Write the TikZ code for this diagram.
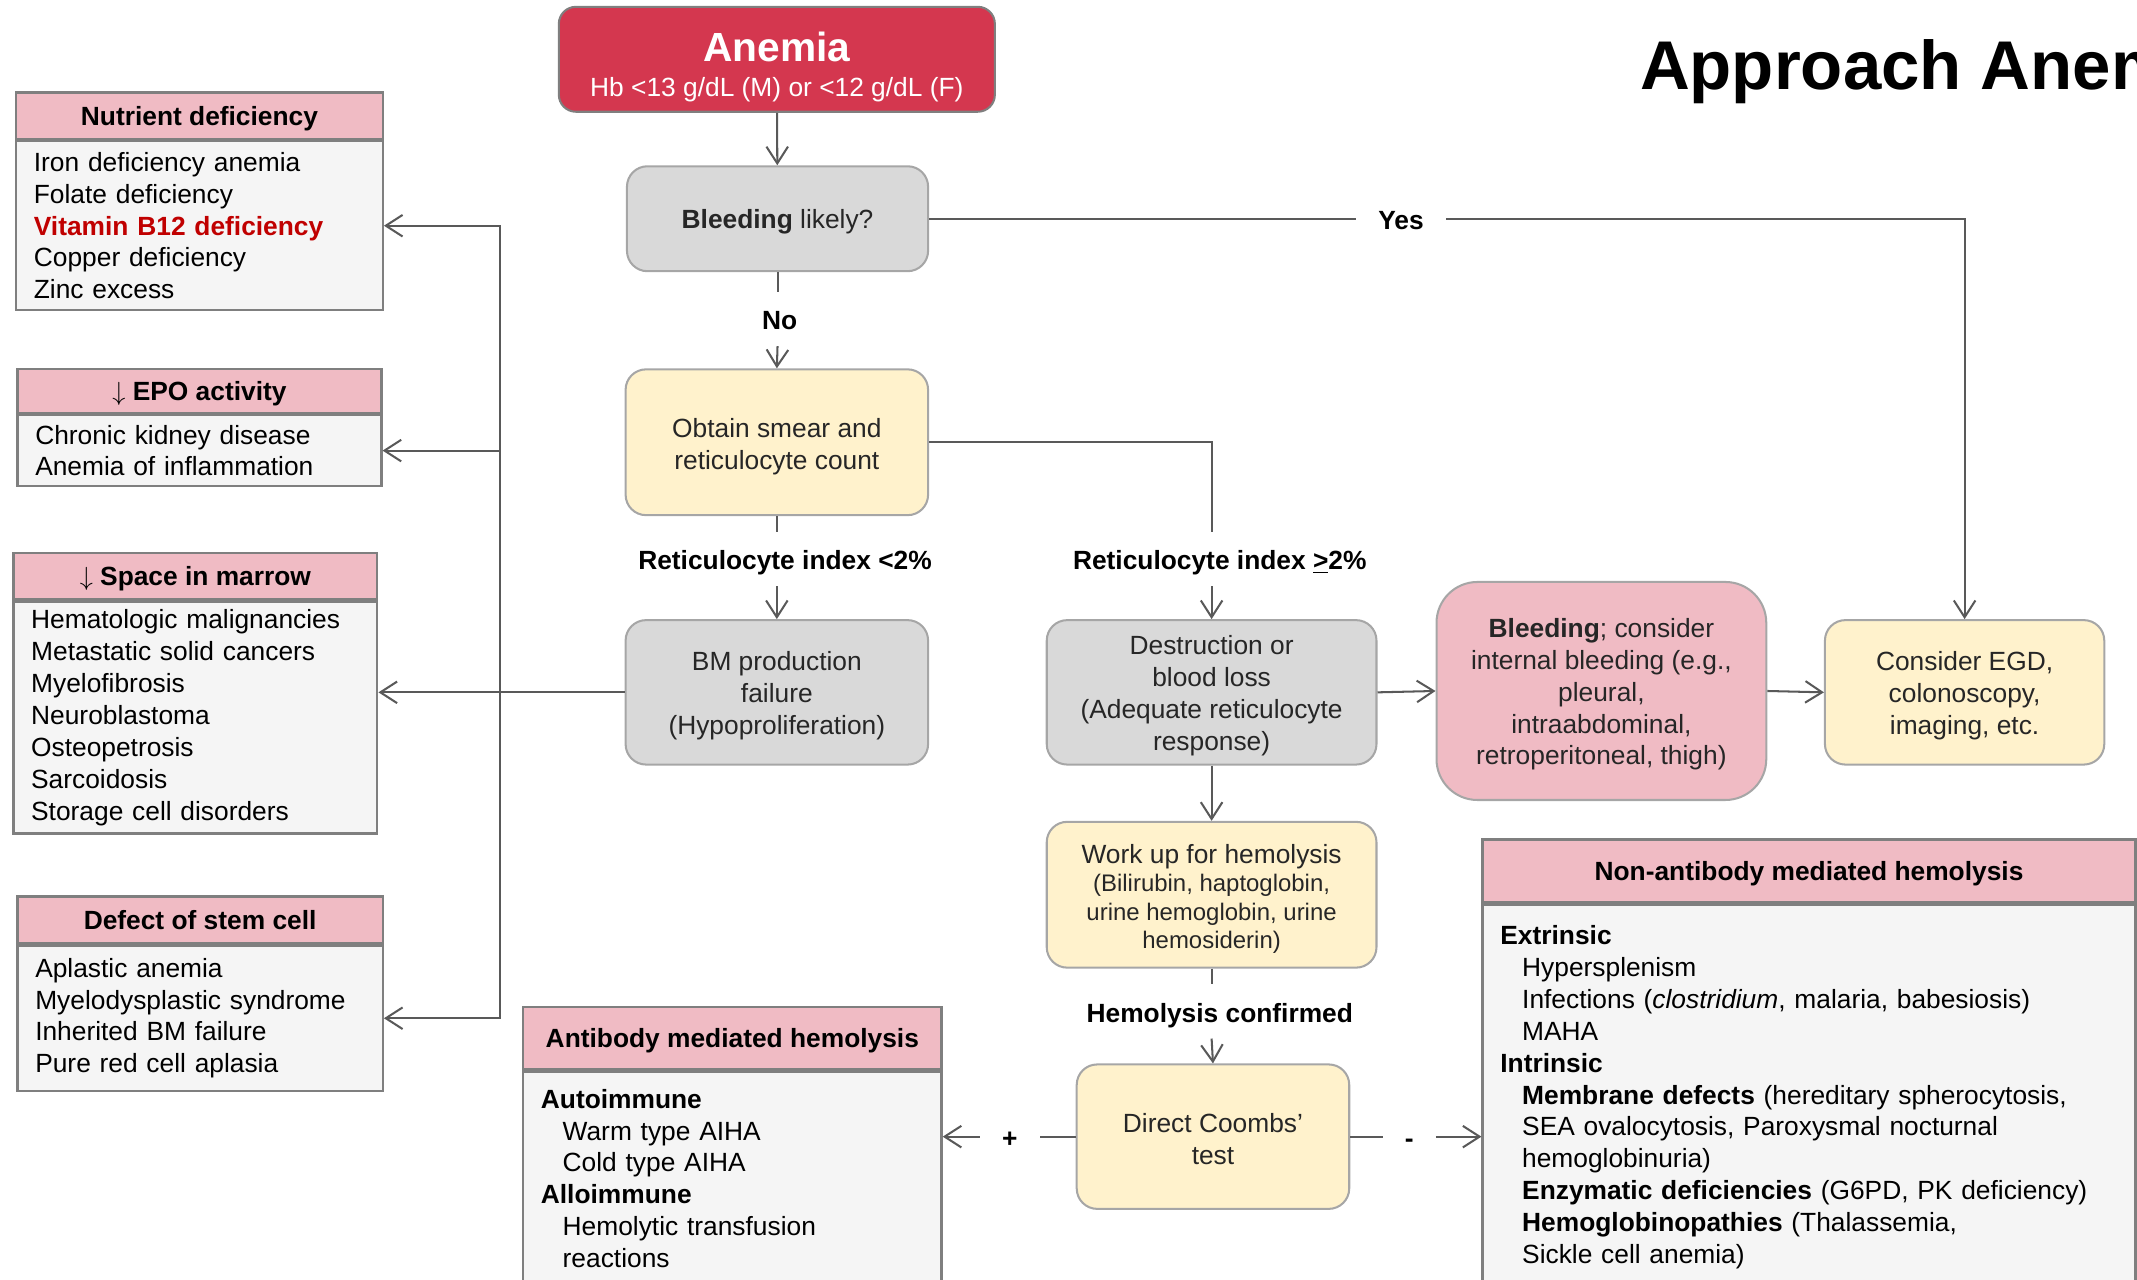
\documentclass[tikz,border=0pt]{standalone}
\usepackage{fontspec}
\setmainfont{Liberation Sans}
\usetikzlibrary{positioning,arrows.meta}

\definecolor{anemiared}{HTML}{D4374F}
\definecolor{boxgray}{HTML}{D9D9D9}
\definecolor{boxyellow}{HTML}{FFF2CC}
\definecolor{boxpink}{HTML}{F0BBC4}
\definecolor{listfill}{HTML}{F5F5F5}
\definecolor{edgegray}{HTML}{A6A6A6}
\definecolor{framegray}{HTML}{7F7F7F}
\definecolor{linegray}{HTML}{595959}
\definecolor{textdark}{HTML}{262626}
\definecolor{darkred}{HTML}{C00000}

% 首行撑高, 文字略下移
\newcommand{\lift}[1][10.8pt]{\rule{0pt}{#1}}

\tikzset{
    barb/.tip={Straight Barb[length=7pt,width=9pt]},
    flowbox/.style={
        rectangle,
        rounded corners=0.3cm,
        draw=edgegray, % 浅灰边框
        line width=0.85pt,
        align=center,
        text=textdark,
        inner sep=2pt,
        font=\fontsize{11}{13.3}\selectfont
    },
    graybox/.style={flowbox, fill=boxgray},
    yellowbox/.style={flowbox, fill=boxyellow},
    pinkbox/.style={flowbox, fill=boxpink, rounded corners=0.6cm},
    headbox/.style={
        rectangle,
        draw=framegray,
        fill=boxpink, % 标题栏粉色
        line width=1pt,
        inner sep=0pt,
        text height=9pt,
        text depth=1.2pt,
        font=\fontsize{11}{13.3}\selectfont\bfseries
    },
    listbox/.style={
        rectangle,
        draw=framegray,
        fill=listfill,
        line width=1pt,
        align=left,
        inner xsep=0.26cm,
        inner ysep=0pt,
        font=\fontsize{11}{13.3}\selectfont
    },
    steplabel/.style={
        font=\fontsize{11}{13.3}\selectfont\bfseries,
        inner xsep=0.32cm,
        inner ysep=0.2cm,
        text height=10pt,
        text depth=1pt
    },
    conn/.style={draw=linegray, line width=0.85pt},
    arr/.style={conn, -barb}
}

\begin{document}
\begin{tikzpicture}[x=0.02cm, y=-0.02cm]
    \useasboundingbox (0,0) rectangle (1568,939);
    \clip (0,0) rectangle (1568,939);

    \node[anchor=base west, inner sep=0pt, font=\fontsize{28.8}{34}\selectfont\bfseries] (title) at (1203,66) {Approach Anemia};

    % 主流程
    \node[flowbox, fill=anemiared, draw=framegray, text=white, rounded corners=0.25cm,
          minimum width=6.4cm, minimum height=1.54cm, font=\fontsize{11}{14.8}\selectfont] (anemia) at (570,43.5)
        {{\lift[18.7pt]\fontsize{17}{20}\selectfont\bfseries Anemia}\\Hb <13 g/dL (M) or <12 g/dL (F)};
    \node[graybox, minimum width=4.42cm, minimum height=1.54cm] (bleed) at (570.5,160.5) {\lift\textbf{Bleeding} likely?};
    \node[yellowbox, minimum width=4.44cm, minimum height=2.14cm] (smear) at (570,324.5) {\lift[11.4pt]Obtain smear and\\reticulocyte count};
    \node[graybox, minimum width=4.44cm, minimum height=2.12cm] (bmfail) at (570,508) {\lift BM production\\failure\\(Hypoproliferation)};
    \node[graybox, minimum width=4.84cm, minimum height=2.12cm] (destr) at (889,508) {\lift Destruction or\\blood loss\\(Adequate reticulocyte\\response)};
    \node[pinkbox, minimum width=4.84cm, minimum height=3.2cm] (bleedint) at (1175,507)
        {\lift\textbf{Bleeding}; consider\\internal bleeding (e.g.,\\pleural,\\intraabdominal,\\retroperitoneal, thigh)};
    \node[yellowbox, minimum width=4.1cm, minimum height=2.12cm] (egd) at (1441.5,508) {\lift Consider EGD,\\colonoscopy,\\imaging, etc.};
    \node[yellowbox, minimum width=4.84cm, minimum height=2.14cm, font=\fontsize{10}{11.9}\selectfont] (workup) at (889,656.5)
        {{\lift[11.6pt]\fontsize{11}{13}\selectfont Work up for hemolysis}\\(Bilirubin, haptoglobin,\\urine hemoglobin, urine\\hemosiderin)};
    \node[yellowbox, minimum width=4.0cm, minimum height=2.12cm] (coombs) at (890,834) {\lift[10.2pt]Direct Coombs'\\test};

    % 分支标签
    \node[steplabel] (no) at (572,234) {No};
    \node[steplabel] (yes) at (1028,160.5) {Yes};
    \node[steplabel] (ri1) at (576,410) {Reticulocyte index <2\%};
    \node[steplabel] (ri2) at (895,410) {Reticulocyte index \underline{>}2\%};
    \node[steplabel] (hemo) at (895,742) {Hemolysis confirmed};
    \node[steplabel] (plus) at (741,834) {+};
    \node[steplabel] (minus) at (1034,834) {-};

    % 左侧分类框
    \node[headbox, anchor=north west, minimum width=5.38cm, minimum height=0.68cm] (nuth) at (11,67) {Nutrient deficiency};
    \node[listbox, below=0pt of nuth, text width=4.86cm, minimum height=2.48cm] (nutb)
        {Iron deficiency anemia\\Folate deficiency\\\textcolor{darkred}{\textbf{Vitamin B12 deficiency}}\\Copper deficiency\\Zinc excess};
    \node[headbox, anchor=north west, minimum width=5.34cm, minimum height=0.64cm] (epoh) at (12,270) {$\downarrow$ EPO activity};
    \node[listbox, below=0pt of epoh, text width=4.82cm, minimum height=1.04cm] (epob)
        {Chronic kidney disease\\Anemia of inflammation};
    \node[headbox, anchor=north west, minimum width=5.34cm, minimum height=0.68cm] (spaceh) at (9,405) {$\downarrow$ Space in marrow};
    \node[listbox, below=0pt of spaceh, text width=4.82cm, minimum height=3.4cm] (spaceb)
        {Hematologic malignancies\\Metastatic solid cancers\\Myelofibrosis\\Neuroblastoma\\Osteopetrosis\\Sarcoidosis\\Storage cell disorders};
    \node[headbox, anchor=north west, minimum width=5.36cm, minimum height=0.68cm] (defh) at (12,657) {Defect of stem cell};
    \node[listbox, below=0pt of defh, text width=4.84cm, minimum height=2.14cm] (defb)
        {Aplastic anemia\\Myelodysplastic syndrome\\Inherited BM failure\\Pure red cell aplasia};

    % 溶血分类
    \node[headbox, anchor=north west, minimum width=6.14cm, minimum height=0.92cm] (abh) at (383,738) {Antibody mediated hemolysis};
    \node[listbox, below=0pt of abh, text width=5.62cm, minimum height=3.12cm] (abb)
        {\textbf{Autoimmune}\\\hspace*{0.32cm}Warm type AIHA\\\hspace*{0.32cm}Cold type AIHA\\\textbf{Alloimmune}\\
         \hspace*{0.32cm}Hemolytic transfusion\\\hspace*{0.32cm}reactions};
    \node[headbox, anchor=north west, minimum width=9.58cm, minimum height=0.92cm] (nabh) at (1087,615) {Non-antibody mediated hemolysis};
    \node[listbox, below=0pt of nabh, text width=9.06cm, minimum height=5.66cm] (nabb)
        {\textbf{Extrinsic}\\
         \hspace*{0.32cm}Hypersplenism\\
         \hspace*{0.32cm}Infections (\textit{clostridium}, malaria, babesiosis)\\
         \hspace*{0.32cm}MAHA\\
         \textbf{Intrinsic}\\
         \hspace*{0.32cm}\textbf{Membrane defects} (hereditary spherocytosis,\\
         \hspace*{0.32cm}SEA ovalocytosis, Paroxysmal nocturnal\\
         \hspace*{0.32cm}hemoglobinuria)\\
         \hspace*{0.32cm}\textbf{Enzymatic deficiencies} (G6PD, PK deficiency)\\
         \hspace*{0.32cm}\textbf{Hemoglobinopathies} (Thalassemia,\\
         \hspace*{0.32cm}Sickle cell anemia)};

    \coordinate (trunk) at (367,508);

    % 连线
    \draw[arr] (anemia) -- (bleed);
    \draw[conn] (bleed.south) -- (bleed.south |- no.north);
    \draw[arr] (bleed.south |- no.south) -- (smear.north);
    \draw[conn] (bleed.east) -- (yes);
    \draw[arr] (yes) -| (egd.north);
    \draw[conn] (smear.south) -- (smear.south |- ri1.north);
    \draw[arr] (smear.south |- ri1.south) -- (bmfail.north);
    \draw[conn] (smear.east) -| (destr.north |- ri2.north);
    \draw[arr] (destr.north |- ri2.south) -- (destr.north);
    \draw[arr] (destr.east) -- (bleedint.west);
    \draw[arr] (bleedint.east) -- (egd.west);
    \draw[arr] (destr) -- (workup);
    \draw[conn] (workup.south) -- (workup.south |- hemo.north);
    \draw[arr] (workup.south |- hemo.south) -- (coombs.north);
    \draw[conn] (coombs.west) -- (plus);
    \draw[arr] (plus) -- (plus -| abb.east);
    \draw[conn] (coombs.east) -- (minus);
    \draw[arr] (minus) -- (minus -| nabb.west);
    \draw[arr] (bmfail.west) -- (bmfail.west -| spaceb.east);
    \draw[conn, barb-barb] (nutb.east) -| (trunk) |- (defb.east);
    \draw[arr] (trunk |- epob.east) -- (epob.east);
\end{tikzpicture}
\end{document}
